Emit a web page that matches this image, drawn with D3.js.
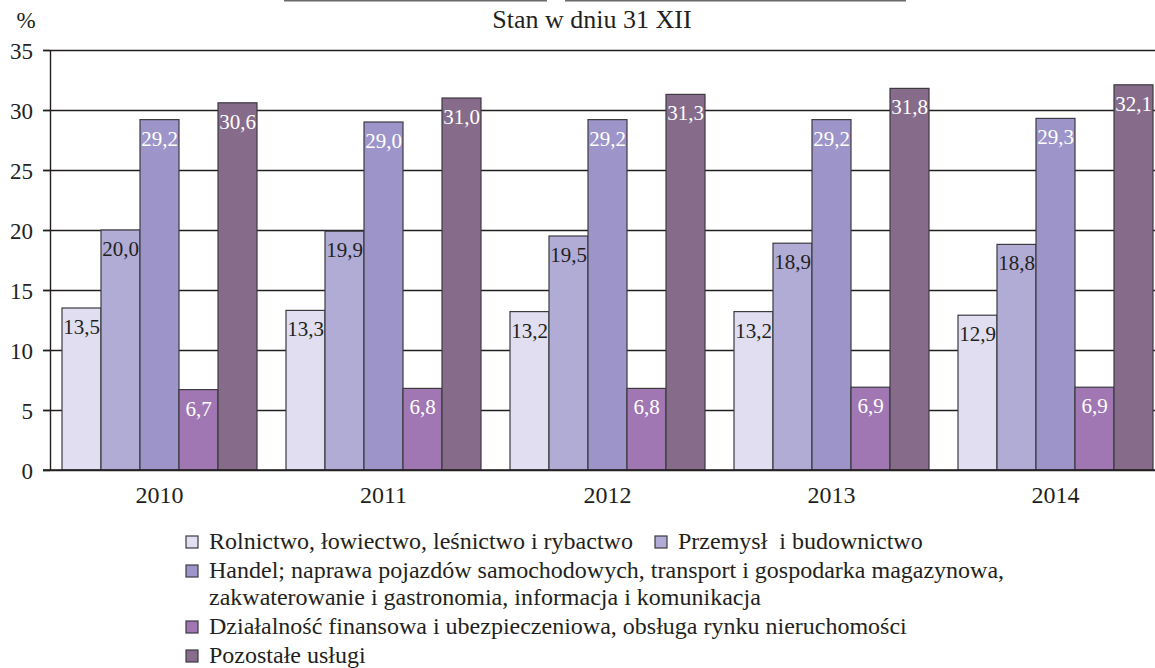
<!DOCTYPE html>
<html><head><meta charset="utf-8">
<script src="https://cdn.jsdelivr.net/npm/d3@7"></script>
<style>
html,body{margin:0;padding:0;background:#fff;}
svg{display:block;}
svg text{white-space:pre;}
</style></head>
<body><svg id="c" width="1155" height="668"></svg>
<script>
const years = ["2010","2011","2012","2013","2014"];
const seriesNames = [
  "Rolnictwo, łowiectwo, leśnictwo i rybactwo",
  "Przemysł  i budownictwo",
  "Handel; naprawa pojazdów samochodowych, transport i gospodarka magazynowa,|zakwaterowanie i gastronomia, informacja i komunikacja",
  "Działalność finansowa i ubezpieczeniowa, obsługa rynku nieruchomości",
  "Pozostałe usługi"
];
const rolnictwo   = [13.5, 13.3, 13.2, 13.2, 12.9];
const przemysl    = [20.0, 19.9, 19.5, 18.9, 18.8];
const handel      = [29.2, 29.0, 29.2, 29.2, 29.3];
const finanse     = [6.7, 6.8, 6.8, 6.9, 6.9];
const pozostale   = [30.6, 31.0, 31.3, 31.8, 32.1];
const yTicks = [0,5,10,15,20,25,30,35];
const subtitle = "Stan w dniu 31 XII";
const unitLabel = "%";

const series = [rolnictwo, przemysl, handel, finanse, pozostale];
const colors = ["#e0def0","#b0acd6","#9d95c9","#a077b3","#866b8a"];
const labelColors = ["#231f20","#231f20","#ffffff","#ffffff","#ffffff"];
const ink = "#231f20";
const FONT = "Liberation Serif";

const svg = d3.select("#c");
const W = 1155;
const y = d3.scaleLinear().domain([0,35]).range([470,50]);
const x0 = d3.scaleBand().domain(years).range([50, 50 + 224*years.length]).padding(0);
const x1 = d3.scaleBand().domain(d3.range(series.length)).range([12, 12 + 39*series.length]).padding(0);

// cut-off title underlines at very top
svg.append("line").attr("x1",284).attr("x2",547).attr("y1",0.8).attr("y2",0.8).attr("stroke","#6a6a6a").attr("stroke-width",1.6);
svg.append("line").attr("x1",565).attr("x2",906).attr("y1",0.8).attr("y2",0.8).attr("stroke","#6a6a6a").attr("stroke-width",1.6);

svg.append("text").attr("x",592).attr("y",28).attr("text-anchor","middle").attr("font-family",FONT)
  .attr("font-size",26).attr("fill",ink).text(subtitle);
svg.append("text").attr("x",26).attr("y",28).attr("text-anchor","middle").attr("font-family",FONT)
  .attr("font-size",23).attr("fill",ink).text(unitLabel);

// gridlines
const grid = svg.append("g").attr("transform","translate(43,0)")
  .call(d3.axisRight(y).tickValues(yTicks).tickSize(W-43).tickFormat(""));
grid.select(".domain").remove();
grid.selectAll(".tick line").attr("stroke",ink).attr("stroke-width",1.4);

// y axis
const ya = svg.append("g").attr("transform","translate(50,0)")
  .call(d3.axisLeft(y).tickValues(yTicks).tickSize(7).tickSizeOuter(0).tickPadding(10));
ya.attr("font-family", FONT);
ya.select(".domain").attr("stroke",ink).attr("stroke-width",1.4);
ya.selectAll(".tick line").attr("stroke",ink).attr("stroke-width",1.4);
ya.selectAll(".tick text").attr("font-size",23).attr("fill",ink).attr("dy","0.36em");

// bars
const groups = svg.append("g").selectAll("g").data(years).join("g")
  .attr("transform", d => `translate(${x0(d)},0)`);
groups.each(function(yr, i){
  const g = d3.select(this);
  series.forEach((s, k) => {
    g.append("rect").attr("x", x1(k)).attr("y", y(s[i]))
      .attr("width", x1.bandwidth()).attr("height", y(0) - y(s[i]))
      .attr("fill", colors[k]).attr("stroke","#3d3a40").attr("stroke-width",1.2);
  });
  series.forEach((s, k) => {
    g.append("text").attr("x", x1(k) + x1.bandwidth()/2).attr("y", y(s[i]) + 26)
      .attr("text-anchor","middle").attr("font-size",21).attr("fill",labelColors[k]).attr("font-family",FONT)
      .text(d3.format(".1f")(s[i]).replace(".", ","));
  });
});
svg.append("line").attr("x1",43).attr("x2",W).attr("y1",y(0)).attr("y2",y(0)).attr("stroke",ink).attr("stroke-width",1.6);

// x labels
svg.append("g").selectAll("text").data(years).join("text")
  .attr("x", d => x0(d) + 12 + 39*series.length/2).attr("y", 503).attr("font-family",FONT)
  .attr("text-anchor","middle").attr("font-size",24).attr("fill",ink).text(d => d);

// legend
const legendPos = [
  {x:186, y:549},
  {x:655, y:549},
  {x:186, y:578},
  {x:186, y:634},
  {x:186, y:663}
];
const lg = svg.append("g");
seriesNames.forEach((name, k) => {
  const p = legendPos[k];
  lg.append("rect").attr("x", p.x).attr("y", p.y - 13).attr("width", 12).attr("height", 12)
    .attr("fill", colors[k]).attr("stroke","#3d3a40").attr("stroke-width",1.2);
  name.split("|").forEach((line, j) => {
    lg.append("text").attr("x", p.x + 23).attr("y", p.y + j*27).attr("font-size",24).attr("font-family",FONT)
      .attr("fill",ink).text(line);
  });
});
</script></body></html>
